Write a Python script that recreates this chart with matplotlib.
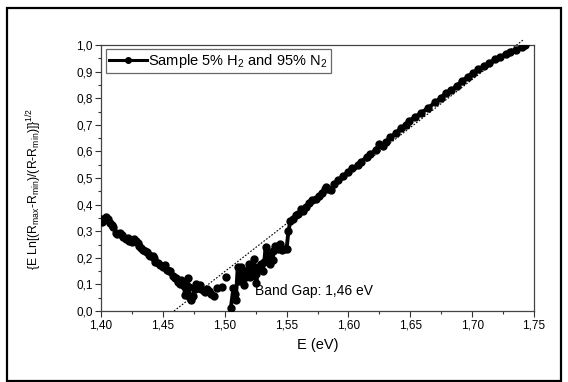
import matplotlib
matplotlib.use("Agg")
import matplotlib.pyplot as plt
from matplotlib.lines import Line2D
from matplotlib.patches import Rectangle

plt.rcParams['font.family'] = ['Liberation Sans', 'DejaVu Sans']
plt.rcParams['mathtext.fontset'] = 'custom'
plt.rcParams['mathtext.rm'] = 'Liberation Sans'
plt.rcParams['mathtext.it'] = 'Liberation Sans'

# ---- data ----
E_main = [1.400, 1.401, 1.402, 1.403, 1.404, 1.406, 1.407, 1.409, 1.410, 1.412,
          1.413, 1.415, 1.417, 1.418, 1.420, 1.422, 1.423, 1.425, 1.427, 1.428,
          1.430, 1.431, 1.432, 1.434, 1.4355, 1.437, 1.4385, 1.440, 1.442, 1.443,
          1.444, 1.446, 1.4477, 1.450, 1.4517, 1.453, 1.455, 1.456, 1.458, 1.460,
          1.461, 1.462, 1.464, 1.465, 1.466, 1.467, 1.468, 1.469, 1.470, 1.471,
          1.472, 1.473, 1.474, 1.476, 1.477, 1.479, 1.480, 1.481, 1.483, 1.484,
          1.486, 1.487, 1.489]
v_main = [0.345, 0.335, 0.340, 0.345, 0.352, 0.345, 0.330, 0.322, 0.317, 0.293,
          0.290, 0.295, 0.285, 0.280, 0.272, 0.275, 0.262, 0.258, 0.270, 0.265,
          0.254, 0.245, 0.236, 0.230, 0.227, 0.220, 0.210, 0.205, 0.207, 0.198,
          0.186, 0.180, 0.174, 0.165, 0.174, 0.155, 0.150, 0.149, 0.130, 0.124,
          0.125, 0.108, 0.103, 0.118, 0.100, 0.094, 0.060, 0.063, 0.124, 0.090,
          0.050, 0.042, 0.057, 0.083, 0.100, 0.095, 0.097, 0.083, 0.075, 0.070,
          0.083, 0.075, 0.063]

E_gap = [1.491, 1.4935, 1.498, 1.501]
v_gap = [0.055, 0.086, 0.090, 0.129]

E_rise = [1.505, 1.507, 1.508, 1.509, 1.5105, 1.5114, 1.513, 1.514, 1.5156, 1.517,
          1.518, 1.5196, 1.5208, 1.522, 1.5236, 1.525, 1.5256, 1.527, 1.529, 1.5307,
          1.532, 1.533, 1.534, 1.536, 1.537, 1.539, 1.5393, 1.541, 1.543, 1.5446,
          1.546, 1.548, 1.550, 1.5515, 1.553, 1.555, 1.5575, 1.5595, 1.5616, 1.5636,
          1.5655, 1.568, 1.5706, 1.5736, 1.576, 1.5786, 1.5807, 1.5817, 1.5837, 1.5857,
          1.5887, 1.5918, 1.5958, 1.5998, 1.6029, 1.6074, 1.610, 1.6147, 1.6176, 1.622,
          1.625, 1.6278, 1.6307, 1.6337, 1.6382, 1.6422, 1.6468, 1.6493, 1.654, 1.6584,
          1.6644, 1.670, 1.6746, 1.6786, 1.6832, 1.6877, 1.6917, 1.6963, 1.7008, 1.7051,
          1.7095, 1.714, 1.7183, 1.7227, 1.727, 1.731, 1.7357, 1.7401, 1.743]
v_rise = [0.013, 0.086, 0.063, 0.043, 0.164, 0.113, 0.164, 0.154, 0.098, 0.126,
          0.151, 0.177, 0.126, 0.164, 0.195, 0.139, 0.106, 0.164, 0.177, 0.149,
          0.185, 0.240, 0.200, 0.214, 0.177, 0.190, 0.224, 0.246, 0.233, 0.252,
          0.230, 0.233, 0.233, 0.300, 0.337, 0.347, 0.360, 0.366, 0.385, 0.376,
          0.390, 0.406, 0.416, 0.422, 0.431, 0.444, 0.460, 0.467, 0.460, 0.454,
          0.479, 0.492, 0.507, 0.523, 0.536, 0.547, 0.559, 0.580, 0.590, 0.605,
          0.628, 0.622, 0.637, 0.653, 0.668, 0.687, 0.700, 0.716, 0.729, 0.744,
          0.763, 0.784, 0.800, 0.820, 0.830, 0.847, 0.864, 0.880, 0.895, 0.908,
          0.920, 0.933, 0.946, 0.956, 0.965, 0.975, 0.983, 0.994, 1.000]

fit_E = [1.459, 1.7415]
fit_v = [0.0, 1.02]

x_ticks = [1.40, 1.45, 1.50, 1.55, 1.60, 1.65, 1.70, 1.75]
x_ticklabels = ['1,40', '1,45', '1,50', '1,55', '1,60', '1,65', '1,70', '1,75']
y_ticks = [0.0, 0.1, 0.2, 0.3, 0.4, 0.5, 0.6, 0.7, 0.8, 0.9, 1.0]
y_ticklabels = ['0,0', '0,1', '0,2', '0,3', '0,4', '0,5', '0,6', '0,7', '0,8', '0,9', '1,0']

legend_label = r'Sample 5% H$_2$ and 95% N$_2$'
annotation = 'Band Gap: 1,46 eV'

# ---- figure ----
fig = plt.figure(figsize=(5.68, 3.82), dpi=100)
fig.patch.set_facecolor('white')
ax = fig.add_axes([101/568, 1-311/382, 433/568, 266/382])

ms = 5.0
lw = 2.8
ax.plot(fit_E, fit_v, color='black', lw=0.8, ls=(0, (1.5, 1.5)), zorder=2, clip_on=False)
ax.plot(E_main, v_main, color='black', lw=lw, marker='o', ms=ms, zorder=3)
ax.plot(E_gap, v_gap, color='black', lw=0, marker='o', ms=ms, zorder=3)
ax.plot(E_rise, v_rise, color='black', lw=lw, marker='o', ms=ms, zorder=3)

ax.set_xlim(1.40, 1.75)
ax.set_ylim(0.0, 1.0)
ax.set_xticks(x_ticks)
ax.set_xticklabels(x_ticklabels)
ax.set_yticks(y_ticks)
ax.set_yticklabels(y_ticklabels)
ax.set_xticks([1.425, 1.475, 1.525, 1.575, 1.625, 1.675, 1.725], minor=True)
ax.set_yticks([0.05, 0.15, 0.25, 0.35, 0.45, 0.55, 0.65, 0.75, 0.85, 0.95], minor=True)
ax.tick_params(which='major', direction='out', length=4, width=0.8, color='#333333',
               labelsize=8.5, pad=2)
ax.tick_params(which='minor', direction='out', length=2.2, width=0.8, color='#333333')
for s in ax.spines.values():
    s.set_color('#444444')
    s.set_linewidth(0.9)

ax.set_xlabel('E (eV)', fontsize=10.5, labelpad=5)
ax.set_ylabel(r'{E Ln[(R$_{max}$-R$_{min}$)/(R-R$_{min}$)]}$^{1/2}$', fontsize=8.8)
ax.yaxis.set_label_coords(-0.132, 0.46)

ax.text(1.5245, 0.075, annotation, fontsize=10, ha='left', va='center')

handle = Line2D([], [], color='black', lw=2.2, marker='o', ms=4)
leg = ax.legend([handle], [legend_label], loc='upper left', bbox_to_anchor=(0.012, 0.985),
                fontsize=10.5, frameon=True, fancybox=False, handlelength=2.6,
                handletextpad=0.1, borderpad=0.2, borderaxespad=0.0, numpoints=1)
leg.get_frame().set_edgecolor('#444444')
leg.get_frame().set_linewidth(0.9)

# outer frame
fig.add_artist(Rectangle((7/568, 1-381/382), 554/568, 373/382, transform=fig.transFigure,
                         fill=False, edgecolor='black', lw=1.6))

fig.savefig('out.png', dpi=100)
